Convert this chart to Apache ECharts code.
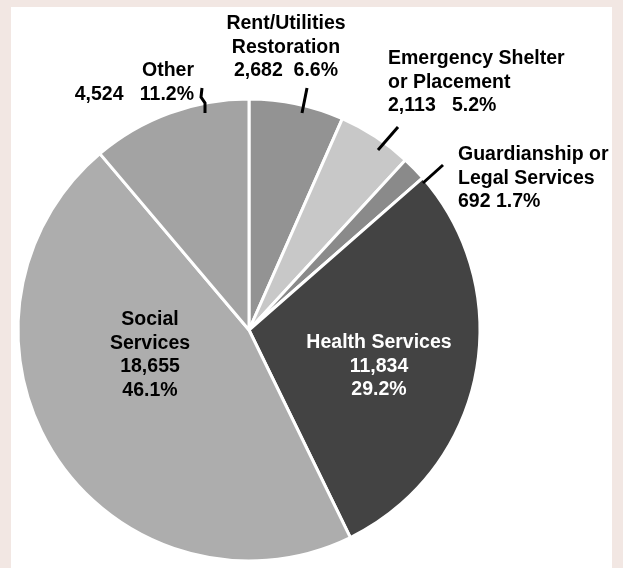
<!DOCTYPE html>
<html><head><meta charset="utf-8">
<script src="https://cdn.jsdelivr.net/npm/echarts@6/dist/echarts.min.js"></script>
<style>html,body{margin:0;padding:0;background:#f2e7e3;}#c{width:623px;height:568px;}</style>
</head><body><div id="c"></div>
<script>
// ---- data ----
const categories = ["Rent/Utilities\nRestoration", "Emergency Shelter\nor Placement", "Guardianship or\nLegal Services", "Health Services", "Social\nServices", "Other"];
const counts = [2682, 2113, 692, 11834, 18655, 4524];

// ---- styles / layout ----
const sliceColors = ['#939393', '#c8c8c8', '#8a8a8a', '#434343', '#adadad', '#a3a3a3'];
const labelPos = [
  {x: 286, y: 12, align: 'center', sep: '  ', line: [[307, 88], [302, 113]]},
  {x: 388, y: 47, align: 'left', sep: '   ', line: [[398, 127], [378, 150]]},
  {x: 458, y: 143, align: 'left', sep: ' ', line: [[443, 165], [423, 183]]},
  {x: 379, y: 331, align: 'center', sep: '\n', inside: true, color: '#fff'},
  {x: 150, y: 308, align: 'center', sep: '\n', inside: true, color: '#000'},
  {x: 194, y: 59, align: 'right', sep: '   ', line: [[202, 88], [201, 97], [205, 103], [205, 113]]}
];

const common = {
  type: 'pie',
  center: [249, 330],
  radius: 231,
  startAngle: 90,
  clockwise: true,
  avoidLabelOverlap: false,
  percentPrecision: 1,
  silent: true,
  emphasis: {disabled: true}
};

// sectors
const sliceData = categories.map((name, i) => ({
  name: name, value: counts[i], itemStyle: {color: sliceColors[i]}
}));
// labels + leader ticks, drawn above the sectors
const labelData = categories.map((name, i) => ({
  name: name,
  value: counts[i],
  label: {position: labelPos[i].inside ? 'inside' : 'outside', color: labelPos[i].color || '#000'},
  labelLine: {show: !labelPos[i].inside}
}));

const chart = echarts.init(document.getElementById('c'), null, {renderer: 'canvas'});
chart.setOption({
  animation: false,
  backgroundColor: 'transparent',
  graphic: [{type: 'rect', shape: {x: 11, y: 7, width: 601, height: 570}, style: {fill: '#ffffff'}, z: -10, silent: true}],
  series: [
    Object.assign({}, common, {
      z: 2,
      itemStyle: {borderColor: '#ffffff', borderWidth: 3},
      label: {show: false},
      labelLine: {show: false},
      data: sliceData
    }),
    Object.assign({}, common, {
      z: 5,
      itemStyle: {color: 'rgba(0,0,0,0)', borderWidth: 0},
      label: {
        show: true,
        overflow: 'none',
        fontFamily: 'Liberation Sans, Arial, sans-serif',
        fontWeight: 'bold',
        fontSize: 19.5,
        lineHeight: 23.5,
        formatter: function (p) {
          const L = labelPos[p.dataIndex];
          return p.name + '\n' + p.value.toLocaleString('en-US') + L.sep + p.percent.toFixed(1) + '%';
        }
      },
      labelLine: {show: true, length: 5, length2: 5, smooth: false, lineStyle: {color: '#000', width: 3}},
      labelLayout: function (p) {
        const L = labelPos[p.dataIndex];
        const r = {x: L.x, y: L.y, align: L.align, verticalAlign: 'top'};
        if (L.line) r.labelLinePoints = L.line;
        return r;
      },
      data: labelData
    })
  ]
});
</script>
</body></html>
